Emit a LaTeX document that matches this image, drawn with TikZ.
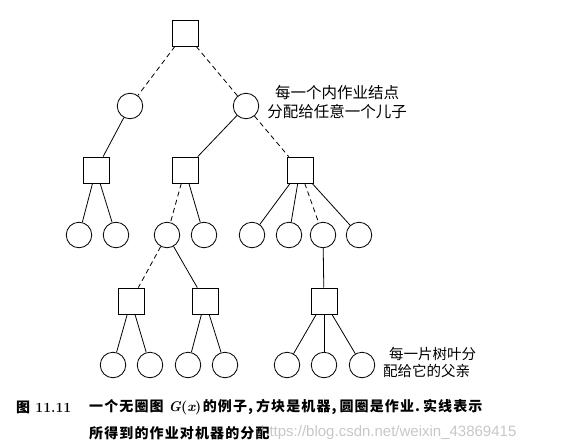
\documentclass[tikz,border=0pt]{standalone}
\usepackage{fontspec}
\newfontfamily\cjk{Noto Sans CJK SC}
\newfontfamily\cjkcap[LetterSpace=8]{Noto Sans CJK SC}
\newfontfamily\wmfont{Liberation Sans}
\newcommand{\ltn}[1]{{\rmfamily\bfseries #1}}
\tikzset{
  mach/.style={draw,rectangle,minimum size=26pt,inner sep=0pt,line width=0.8pt},
  job/.style={draw,circle,minimum size=25.5pt,inner sep=0pt,line width=0.8pt},
  link/.style={line width=0.8pt},
  dlink/.style={line width=0.8pt,dash pattern=on 5pt off 3.5pt},
  note/.style={font=\cjk\fontsize{15.5}{18.5}\selectfont,inner sep=0pt},
}
\begin{document}
\begin{tikzpicture}[x=1pt,y=-1pt]
\useasboundingbox (0,0) rectangle (567,447);
\foreach \n/\x/\y in {m0/185/33,m1/96/170,m2/185/170,m3/300/170,
  m4/131/301,m5/205/301,m6/324/301}
  \node[mach] (\n) at (\x,\y) {};
\foreach \n/\x/\y in {j1/130/106,j2/246/106,
  j3/79/235,j4/116/235,j5/167/235,j6/204/235,
  j7/252/235,j8/289/235,j9/323/235,j10/359/235,
  j11/113/365,j12/150/365,j13/188/365,j14/225/365,
  j15/287/365,j16/324/365,j17/362/365}
  \node[job] (\n) at (\x,\y) {};
\foreach \a/\b in {m0/j1,m0/j2,j2/m3,m2/j5,m3/j9,j5/m4}
  \draw[dlink] (\a) -- (\b);
\foreach \a/\b in {j1/m1,j2/m2,m1/j3,m1/j4,m2/j6,m3/j7,m3/j8,m3/j10,
  j5/m5,j9/m6,m4/j11,m4/j12,m5/j13,m5/j14,m6/j15,m6/j16,m6/j17}
  \draw[link] (\a) -- (\b);
\node[note,align=center] (inner) at (337,102) {每一个内作业结点\\分配给任意一个儿子};
\node[note,align=left,font=\cjk\fontsize{14.5}{17.5}\selectfont,anchor=north west]
  (leaf) at (383,347) {\hspace{6pt}每一片树叶分\\配给它的父亲};
\node[anchor=west,inner sep=0pt,text=black!22,font=\wmfont\fontsize{15}{17}\selectfont]
  (mark) at (261,433) {https://blog.csdn.net/weixin\_43869415};
\node[anchor=west,inner sep=0pt,font=\bfseries\fontsize{14}{16}\selectfont]
  (fig) at (16,407) {{\cjkcap 图} 11.11};
\node[anchor=west,inner sep=0pt,font=\cjkcap\bfseries\fontsize{14}{16}\selectfont]
  (cap1) at (89,407) {一个无圈图\hspace{5pt}\ltn{\itshape G}\ltn{(}\ltn{\itshape x}\ltn{)}\hspace{1.5pt}的例子,\hspace{3pt}方块是机器,\hspace{3pt}圆圈是作业.\hspace{3pt}实线表示};
\node[anchor=west,inner sep=0pt,font=\cjkcap\bfseries\fontsize{14}{16}\selectfont]
  (cap2) at (89,433) {所得到的作业对机器的分配};
\end{tikzpicture}
\end{document}
